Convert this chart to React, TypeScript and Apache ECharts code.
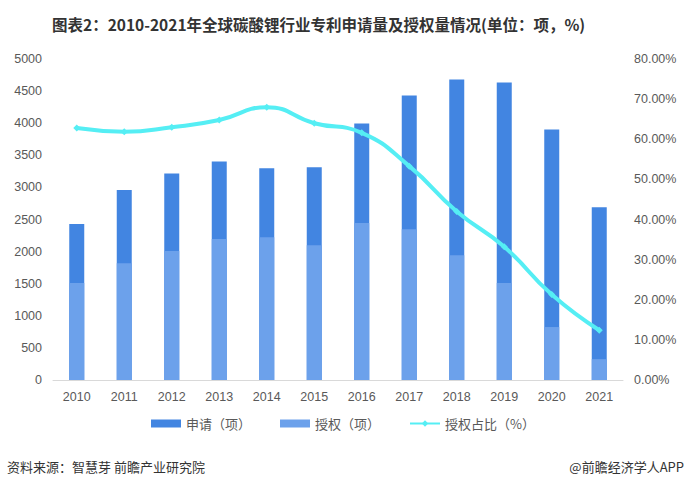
import React, { useEffect, useRef } from "react";
import * as echarts from "echarts";

const years = ["2010", "2011", "2012", "2013", "2014", "2015", "2016", "2017", "2018", "2019", "2020", "2021"];
const applications = [2430, 2960, 3215, 3405, 3300, 3315, 3995, 4430, 4680, 4635, 3900, 2690];
const grants = [1510, 1820, 2010, 2195, 2225, 2100, 2445, 2350, 1945, 1510, 825, 325];
const grantRatio = [62.8, 61.9, 63.0, 64.8, 68.0, 64.0, 61.6, 53.3, 42.0, 33.2, 21.3, 12.4];
const leftTicks = { min: 0, max: 5000, interval: 500 };
const rightTicks = { min: 0, max: 80, interval: 10 };

const FONT = "'Liberation Sans', 'Noto Sans CJK SC', sans-serif";
const CJK = "'Noto Sans CJK SC', 'Liberation Sans', sans-serif";

export default function App() {
  const ref = useRef<HTMLDivElement>(null);
  useEffect(() => {
    if (!ref.current) return;
    const chart = echarts.init(ref.current, undefined, { renderer: "svg" });
    chart.setOption({
      animation: false,
      backgroundColor: "#ffffff",
      title: {
        text: "图表2：2010-2021年全球碳酸锂行业专利申请量及授权量情况(单位：项，%)",
        left: 47,
        top: 11,
        textStyle: { fontSize: 15.5, fontWeight: "bold", color: "#333333", fontFamily: CJK },
      },
      grid: { left: 53, right: 63, top: 59, bottom: 109 },
      legend: {
        bottom: 54,
        left: "center",
        itemGap: 29,
        itemWidth: 30,
        itemHeight: 8,
        textStyle: { fontSize: 13, color: "#595959", fontFamily: CJK },
        data: [
          { name: "申请（项）", icon: "rect" },
          { name: "授权（项）", icon: "rect" },
          { name: "授权占比（%）" },
        ],
      },
      xAxis: {
        type: "category",
        data: years,
        axisLine: { lineStyle: { color: "#d9d9d9", width: 1 } },
        axisTick: { show: false },
        axisLabel: { color: "#595959", fontSize: 12.5, fontFamily: FONT, margin: 11 },
      },
      yAxis: [
        {
          type: "value",
          ...leftTicks,
          splitLine: { show: false },
          axisLine: { show: false },
          axisTick: { show: false },
          axisLabel: {
            color: "#595959",
            fontSize: 12.5,
            fontFamily: FONT,
            margin: 11,
            formatter: (v: number) => String(v),
          },
        },
        {
          type: "value",
          ...rightTicks,
          splitLine: { show: false },
          axisLine: { show: false },
          axisTick: { show: false },
          axisLabel: {
            color: "#595959",
            fontSize: 12.5,
            fontFamily: FONT,
            margin: 11,
            formatter: (v: number) => v.toFixed(2) + "%",
          },
        },
      ],
      series: [
        {
          name: "申请（项）",
          type: "bar",
          data: applications,
          barWidth: 15,
          barGap: "-100%",
          itemStyle: { color: "#4285E1" },
        },
        {
          name: "授权（项）",
          type: "bar",
          data: grants,
          barWidth: 15,
          itemStyle: { color: "#6CA1EB" },
        },
        {
          name: "授权占比（%）",
          type: "line",
          yAxisIndex: 1,
          data: grantRatio,
          smooth: true,
          symbol: "diamond",
          symbolSize: 7,
          lineStyle: { color: "#55EEF4", width: 4 },
          itemStyle: { color: "#55EEF4" },
        },
      ],
      graphic: [
        {
          type: "text",
          left: 7,
          top: 460,
          style: { text: "资料来源：智慧芽 前瞻产业研究院", fill: "#333333", font: "13px 'Noto Sans CJK SC'" },
        },
        {
          type: "text",
          right: 2,
          top: 460,
          style: { text: "@前瞻经济学人APP", fill: "#333333", font: "13px 'Noto Sans CJK SC'" },
        },
      ],
    });
    return () => chart.dispose();
  }, []);
  return <div ref={ref} style={{ position: "fixed", left: 0, top: 0, width: 686, height: 489 }} />;
}
